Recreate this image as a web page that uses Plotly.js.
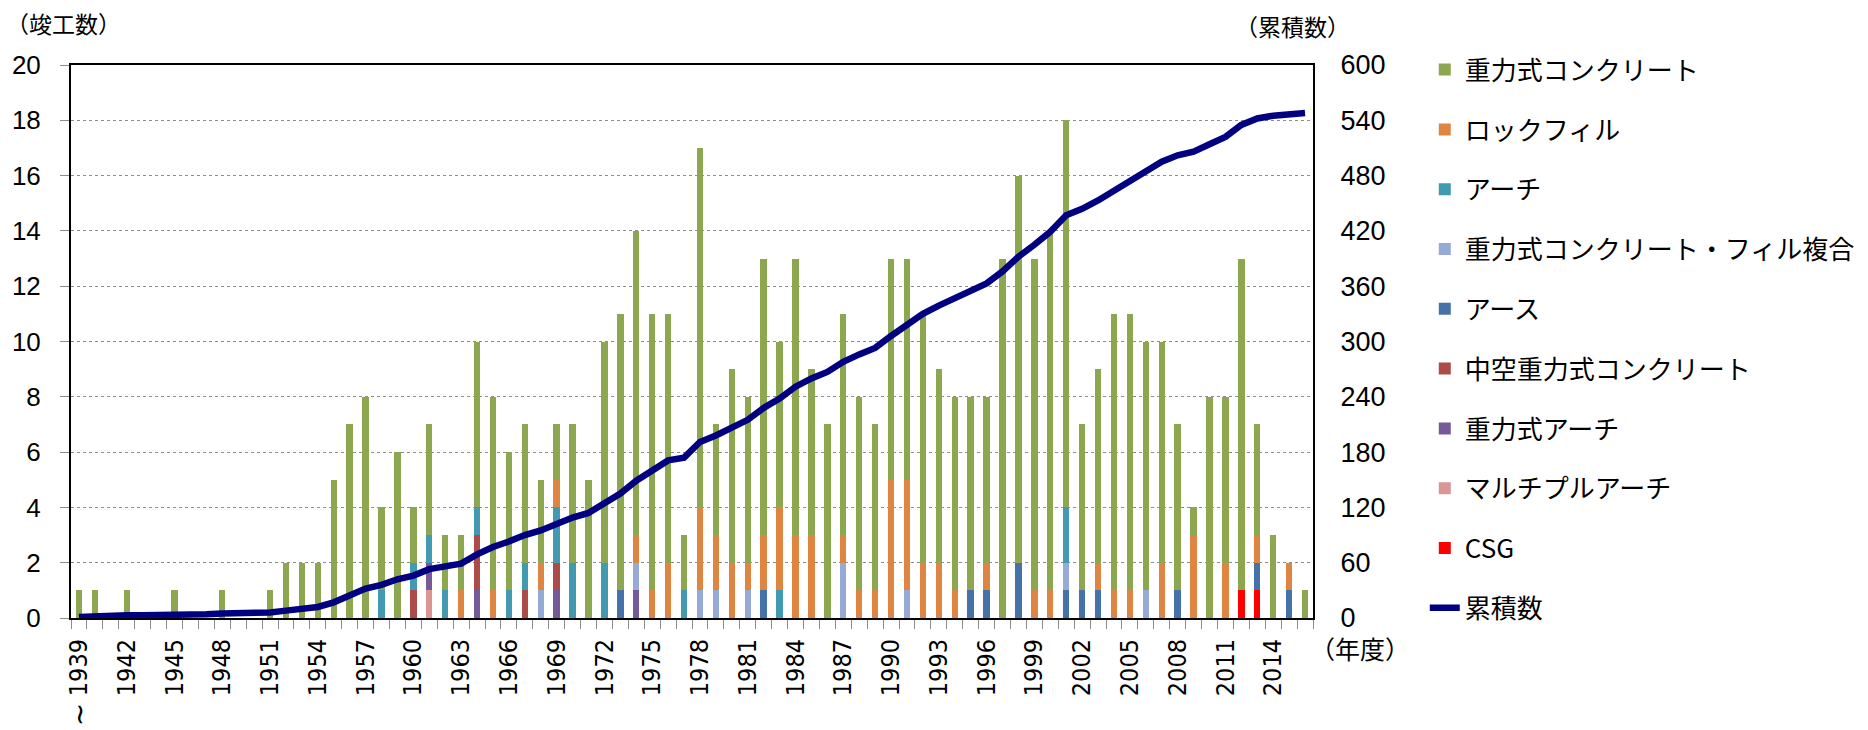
<!DOCTYPE html>
<html>
<head>
<meta charset="utf-8">
<script src="https://cdn.plot.ly/plotly-3.0.1.min.js"></script>
<style>html,body{margin:0;padding:0;background:#fff;}#chart{width:1868px;height:730px;}</style>
</head>
<body>
<div id="chart"></div>
<script>
// Fiscal years (categories)
const years = [1939,1940,1941,1942,1943,1944,1945,1946,1947,1948,
  1949,1950,1951,1952,1953,1954,1955,1956,1957,1958,
  1959,1960,1961,1962,1963,1964,1965,1966,1967,1968,
  1969,1970,1971,1972,1973,1974,1975,1976,1977,1978,
  1979,1980,1981,1982,1983,1984,1985,1986,1987,1988,
  1989,1990,1991,1992,1993,1994,1995,1996,1997,1998,
  1999,2000,2001,2002,2003,2004,2005,2006,2007,2008,
  2009,2010,2011,2012,2013,2014,2015,2016];

// 重力式コンクリート
const gravityConcrete = [1,1,0,1,0,0,1,0,0,1,
  0,0,1,2,2,2,5,7,8,3,
  6,2,4,2,2,6,7,5,5,3,
  2,5,5,8,10,11,10,9,2,13,
  4,7,6,10,6,10,6,7,8,7,
  6,8,8,9,7,7,7,6,13,14,
  12,13,14,6,7,10,10,9,8,6,
  1,8,6,12,4,3,0,1];
// ロックフィル
const rockfill = [0,0,0,0,0,0,0,0,0,0,
  0,0,0,0,0,0,0,0,0,0,
  0,0,0,0,1,0,1,0,0,1,
  1,0,0,0,0,1,1,2,0,3,
  2,2,1,2,3,3,3,0,1,1,
  1,5,4,2,2,1,0,1,0,0,
  1,1,0,0,1,1,1,0,2,0,
  3,0,2,0,1,0,1,0];
// アーチ
const arch = [0,0,0,0,0,0,0,0,0,0,
  0,0,0,0,0,0,0,0,0,1,
  0,1,1,1,0,1,0,1,1,0,
  2,2,0,2,0,0,0,0,1,0,
  0,0,0,0,1,0,0,0,0,0,
  0,0,0,0,0,0,0,0,0,0,
  0,0,2,0,0,0,0,0,0,0,
  0,0,0,0,0,0,0,0];
// 重力式コンクリート・フィル複合
const composite = [0,0,0,0,0,0,0,0,0,0,
  0,0,0,0,0,0,0,0,0,0,
  0,0,0,0,0,0,0,0,0,1,
  0,0,0,0,0,1,0,0,0,1,
  1,0,1,0,0,0,0,0,2,0,
  0,0,1,0,0,0,0,0,0,0,
  0,0,1,0,0,0,0,1,0,0,
  0,0,0,0,0,0,0,0];
// アース
const earth = [0,0,0,0,0,0,0,0,0,0,
  0,0,0,0,0,0,0,0,0,0,
  0,0,0,0,0,0,0,0,0,0,
  0,0,0,0,1,0,0,0,0,0,
  0,0,0,1,0,0,0,0,0,0,
  0,0,0,0,0,0,1,1,0,2,
  0,0,1,1,1,0,0,0,0,1,
  0,0,0,0,1,0,1,0];
// 中空重力式コンクリート
const hollowGravity = [0,0,0,0,0,0,0,0,0,0,
  0,0,0,0,0,0,0,0,0,0,
  0,1,0,0,0,2,0,0,1,0,
  1,0,0,0,0,0,0,0,0,0,
  0,0,0,0,0,0,0,0,0,0,
  0,0,0,0,0,0,0,0,0,0,
  0,0,0,0,0,0,0,0,0,0,
  0,0,0,0,0,0,0,0];
// 重力式アーチ
const gravityArch = [0,0,0,0,0,0,0,0,0,0,
  0,0,0,0,0,0,0,0,0,0,
  0,0,1,0,0,1,0,0,0,0,
  1,0,0,0,0,1,0,0,0,0,
  0,0,0,0,0,0,0,0,0,0,
  0,0,0,0,0,0,0,0,0,0,
  0,0,0,0,0,0,0,0,0,0,
  0,0,0,0,0,0,0,0];
// マルチプルアーチ
const multipleArch = [0,0,0,0,0,0,0,0,0,0,
  0,0,0,0,0,0,0,0,0,0,
  0,0,1,0,0,0,0,0,0,0,
  0,0,0,0,0,0,0,0,0,0,
  0,0,0,0,0,0,0,0,0,0,
  0,0,0,0,0,0,0,0,0,0,
  0,0,0,0,0,0,0,0,0,0,
  0,0,0,0,0,0,0,0];
// CSG
const csg = [0,0,0,0,0,0,0,0,0,0,
  0,0,0,0,0,0,0,0,0,0,
  0,0,0,0,0,0,0,0,0,0,
  0,0,0,0,0,0,0,0,0,0,
  0,0,0,0,0,0,0,0,0,0,
  0,0,0,0,0,0,0,0,0,0,
  0,0,0,0,0,0,0,0,0,0,
  0,0,0,1,1,0,0,0];
// 累積数
const cumulative = [1,2,2,3,3,3,4,4,4,5,
  5,5,6,8,10,12,17,24,32,36,
  42,46,53,56,59,69,77,83,90,95,
  102,109,114,124,135,149,160,171,174,191,
  198,207,215,228,238,251,260,267,278,286,
  293,306,319,330,339,347,355,363,376,392,
  405,419,437,444,453,464,475,485,495,502,
  506,514,522,535,542,545,547,548];

const tickYears = [1939,1942,1945,1948,1951,1954,1957,1960,1963,1966,1969,1972,1975,1978,1981,1984,1987,1990,1993,1996,1999,2002,2005,2008,2011,2014];
const tickLabels = ["1939","1942","1945","1948","1951","1954","1957","1960","1963","1966","1969","1972","1975","1978","1981","1984","1987","1990","1993","1996","1999","2002","2005","2008","2011","2014"];

const JP = "'Noto Sans CJK JP', sans-serif";

function barTrace(name, vals, color, grp, rank) {
  return {
    type: 'bar', name: name, x: years, y: vals,
    marker: {color: color},
    legendgroup: grp, legendrank: rank, hoverinfo: 'x+y+name'
  };
}

const data = [
  {type: 'scatter', mode: 'lines', name: '累積数', x: years, y: cumulative, yaxis: 'y2',
   line: {color: '#000080', width: 6.5}, legendgroup: 'g10', legendrank: 10},
  barTrace('CSG', csg, '#FF0000', 'g9', 9),
  barTrace('マルチプルアーチ', multipleArch, '#D99694', 'g8', 8),
  barTrace('重力式アーチ', gravityArch, '#765A98', 'g7', 7),
  barTrace('中空重力式コンクリート', hollowGravity, '#AD4B49', 'g6', 6),
  barTrace('アース', earth, '#4572A8', 'g5', 5),
  barTrace('重力式コンクリート・フィル複合', composite, '#95ABD5', 'g4', 4),
  barTrace('アーチ', arch, '#4299B2', 'g3', 3),
  barTrace('ロックフィル', rockfill, '#DE8641', 'g2', 2),
  barTrace('重力式コンクリート', gravityConcrete, '#8CA750', 'g1', 1)
];

const layout = {
  width: 1868, height: 730,
  margin: {l: 71, r: 555, t: 65, b: 112, autoexpand: false},
  paper_bgcolor: '#fff', plot_bgcolor: '#fff',
  barmode: 'stack', bargap: 0.6,
  showlegend: true,
  legend: {
    x: 1.090, xanchor: 'left', y: 1.034, yanchor: 'top',
    traceorder: 'grouped', tracegroupgap: 23, maxheight: 2000,
    font: {family: JP, size: 26, color: '#000'},
    bgcolor: 'rgba(0,0,0,0)'
  },
  xaxis: {
    type: 'linear', range: [1938.5, 2016.5], automargin: false,
    tickmode: 'array', tickvals: tickYears, ticktext: tickLabels,
    tickangle: -90, ticks: 'outside', ticklen: 9, tickcolor: 'rgba(0,0,0,0)',
    tickfont: {family: "'DejaVu Sans Condensed', 'DejaVu Sans', sans-serif", size: 25, color: '#000'},
    showgrid: false, zeroline: false,
    showline: true, linecolor: '#000', linewidth: 2, mirror: true,
    minor: {tickmode: 'linear', tick0: 1938.5, dtick: 1, ticks: 'outside', ticklen: 9, tickcolor: '#8c8c8c', tickwidth: 1, showgrid: false}
  },
  yaxis: {
    range: [0, 20], dtick: 2, tick0: 0, automargin: false,
    ticks: 'outside', ticklen: 9, tickcolor: '#8c8c8c',
    tickfont: {family: "'Liberation Sans', Arial, sans-serif", size: 26, color: '#000'},
    ticklabelstandoff: 14,
    showgrid: true, gridcolor: '#8c8c8c', griddash: 'dot', gridwidth: 1,
    zeroline: false, showline: true, linecolor: '#000', linewidth: 2
  },
  yaxis2: {
    overlaying: 'y', side: 'right', range: [0, 600], dtick: 60, tick0: 0, automargin: false,
    ticks: '', showgrid: false, zeroline: false,
    tickfont: {family: "'Liberation Sans Narrow', 'Liberation Sans', sans-serif", size: 27, color: '#000'},
    ticklabelstandoff: 20,
    showline: true, linecolor: '#000', linewidth: 2
  },
  annotations: [
    {text: '（竣工数）', xref: 'paper', yref: 'paper', x: -0.0064, y: 1.0759, xanchor: 'center', yanchor: 'middle', showarrow: false, font: {family: JP, size: 23, color: '#000'}},
    {text: '（累積数）', xref: 'paper', yref: 'paper', x: 0.9831, y: 1.0705, xanchor: 'center', yanchor: 'middle', showarrow: false, font: {family: JP, size: 23, color: '#000'}},
    {text: '（年度）', xref: 'paper', yref: 'paper', x: 0.9960, y: -0.0542, xanchor: 'left', yanchor: 'middle', showarrow: false, font: {family: JP, size: 25, color: '#000'}},
    {text: '~', xref: 'paper', yref: 'paper', x: 0.0072, y: -0.175, xanchor: 'center', yanchor: 'middle', showarrow: false, textangle: 90, font: {family: "'DejaVu Sans', sans-serif", size: 28, color: '#000'}}
  ]
};

Plotly.newPlot('chart', data, layout, {displayModeBar: false, staticPlot: true});
</script>
</body>
</html>
